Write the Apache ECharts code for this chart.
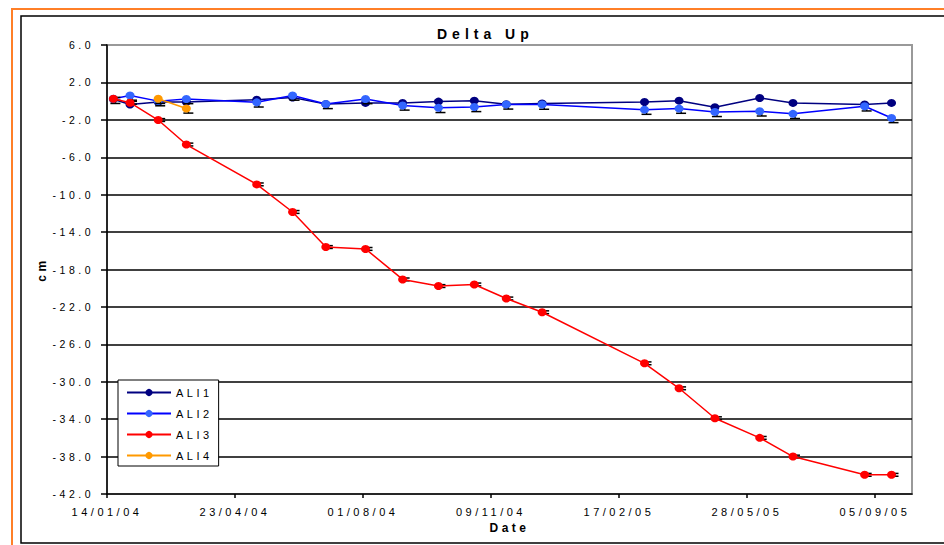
<!DOCTYPE html>
<html>
<head>
<meta charset="utf-8">
<script src="https://cdn.jsdelivr.net/npm/echarts@6/dist/echarts.min.js"></script>
<style>
  html, body { margin: 0; padding: 0; background: #fff; }
  #chart { width: 944px; height: 545px; }
  #chart text { letter-spacing: 3.5px; }
</style>
</head>
<body>
<div id="chart"></div>
<script>
// ---- data ----
const dates = ["2004-01-19","2004-02-01","2004-02-23","2004-03-16","2004-05-10","2004-06-07","2004-07-03","2004-08-03","2004-09-01","2004-09-29","2004-10-27","2004-11-21","2004-12-19","2005-03-09","2005-04-05","2005-05-03","2005-06-07","2005-07-03","2005-08-28","2005-09-18"];
const ali1 = [0.2, -0.37, -0.1, -0.09, 0.16, 0.38, -0.32, -0.19, -0.19, -0.05, 0.05, -0.34, -0.25, -0.09, 0.05, -0.66, 0.34, -0.19, -0.37, -0.19];
const ali2 = [0.25, 0.6, 0.0, 0.23, -0.13, 0.6, -0.3, 0.23, -0.46, -0.72, -0.62, -0.35, -0.37, -0.91, -0.8, -1.15, -1.09, -1.36, -0.55, -1.8];
const ali3 = [0.25, -0.17, -2.02, -4.64, -8.9, -11.85, -15.6, -15.8, -19.06, -19.77, -19.6, -21.1, -22.57, -28.03, -30.7, -33.9, -36.0, -38.0, -39.95, -39.95];
const ali4 = [null, null, 0.25, -0.78, null, null, null, null, null, null, null, null, null, null, null, null, null, null, null, null];
const seriesNames = ["ALI1", "ALI2", "ALI3", "ALI4"];
// error bar half-ranges (cm) read from the small black caps
const errPlus  = [0, 0, 0.15, 0];
const errMinus = [0, 0.5, 0.15, 0.5];
const xTickLabels = ["14/01/04", "23/04/04", "01/08/04", "09/11/04", "17/02/05", "28/05/05", "05/09/05"];
const yMin = -42, yMax = 6, yStep = 4;
const xStartDate = "2004-01-14", xStepDays = 100, xMaxDays = 629;

// ---- helpers ----
const START = Date.parse(xStartDate + "T00:00:00Z");
const dayOf = s => Math.round((Date.parse(s + "T00:00:00Z") - START) / 86400000);
const toPairs = vals => dates.map((d, i) => [dayOf(d), vals[i]]).filter(p => p[1] !== null);

const FONT = 'Arial, "Liberation Sans", sans-serif';
const colors = {
  ALI1: { line: "#000080", mark: "#000080" },
  ALI2: { line: "#0000ff", mark: "#3366ff" },
  ALI3: { line: "#ff0000", mark: "#ff0000" },
  ALI4: { line: "#ff9900", mark: "#ff9900" }
};
const allVals = [ali1, ali2, ali3, ali4];
const xTickValues = xTickLabels.map((_, i) => i * xStepDays);

const lineSeries = seriesNames.map((name, k) => ({
  name: name,
  type: "line",
  data: toPairs(allVals[k]),
  symbol: "circle",
  symbolSize: [9, 8],
  showAllSymbol: true,
  z: 3 + 2 * k,
  lineStyle: { color: colors[name].line, width: 1.5 },
  itemStyle: { color: colors[name].mark, borderWidth: 0 },
  emphasis: { disabled: true }
}));

const errSeries = seriesNames.map((name, k) => ({
  name: name + " err",
  type: "custom",
  z: 2 + 2 * k,
  silent: true,
  data: toPairs(allVals[k]).map(p => [p[0], p[1], p[1] + errPlus[k], p[1] - errMinus[k]]),
  renderItem: (params, api) => {
    if (errPlus[k] === 0 && errMinus[k] === 0) return null;
    const top = api.coord([api.value(0), api.value(2)]);
    const bot = api.coord([api.value(0), api.value(3)]);
    const off = 2;
    const st = { stroke: "#000", lineWidth: 1.5 };
    const kids = [{ type: "line", shape: { x1: top[0] + off, y1: top[1], x2: bot[0] + off, y2: bot[1] }, style: st }];
    if (errPlus[k] > 0) kids.push({ type: "line", shape: { x1: top[0] + off - 5, y1: top[1], x2: top[0] + off + 5, y2: top[1] }, style: st });
    if (errMinus[k] > 0) kids.push({ type: "line", shape: { x1: bot[0] + off - 5, y1: bot[1], x2: bot[0] + off + 5, y2: bot[1] }, style: st });
    return { type: "group", children: kids };
  }
}));

const chart = echarts.init(document.getElementById("chart"), null, { renderer: "svg" });
chart.setOption({
  animation: false,
  backgroundColor: "#fff",
  textStyle: { fontFamily: FONT },
  title: {
    text: "Delta Up",
    left: 437, top: 27, padding: 0,
    textStyle: { fontFamily: FONT, fontSize: 14, fontWeight: "bold", color: "#000" }
  },
  graphic: [
    { type: "rect", shape: { x: 12, y: 9, width: 980, height: 580 }, style: { fill: "none", stroke: "#ff7f27", lineWidth: 2 }, silent: true, z: 0 },
    { type: "rect", shape: { x: 21, y: 16, width: 960, height: 527 }, style: { fill: "none", stroke: "#000", lineWidth: 1.5 }, silent: true, z: 0 }
  ],
  grid: {
    left: 107, right: 32, top: 45, bottom: 51,
    show: true, borderColor: "#999", borderWidth: 2, backgroundColor: "#fff"
  },
  legend: {
    orient: "vertical", left: 118, top: 380,
    padding: [6, 20, 4, 8], itemGap: 8, itemWidth: 44, itemHeight: 9,
    backgroundColor: "#fff", borderColor: "#000", borderWidth: 1, borderRadius: 0,
    textStyle: { fontFamily: FONT, fontSize: 11, color: "#000", lineHeight: 13 },
    data: seriesNames
  },
  xAxis: {
    type: "value", min: 0, max: xMaxDays, interval: xStepDays,
    name: "Date", nameLocation: "middle", nameGap: 27,
    nameTextStyle: { fontFamily: FONT, fontSize: 12, fontWeight: "bold", color: "#000" },
    axisLine: { show: true, onZero: false, lineStyle: { color: "#000", width: 1.5 } },
    axisTick: { show: true, length: 4, customValues: xTickValues, lineStyle: { color: "#000", width: 1.5 } },
    axisLabel: {
      margin: 12, fontSize: 11, color: "#000", fontFamily: FONT, showMaxLabel: false,
      formatter: v => (v % xStepDays === 0 && v / xStepDays < xTickLabels.length) ? xTickLabels[v / xStepDays] : ""
    },
    splitLine: { show: false }
  },
  yAxis: {
    type: "value", min: yMin, max: yMax, interval: yStep,
    name: "cm", nameLocation: "middle", nameGap: 59, nameRotate: 90,
    nameTextStyle: { fontFamily: FONT, fontSize: 12, fontWeight: "bold", color: "#000" },
    axisLine: { show: true, onZero: false, lineStyle: { color: "#000", width: 1.5 } },
    axisTick: { show: true, length: 6, lineStyle: { color: "#000", width: 1.5 } },
    axisLabel: { margin: 13, fontSize: 10.5, color: "#000", fontFamily: FONT, formatter: v => v.toFixed(1) },
    splitLine: { show: true, showMinLine: false, showMaxLine: false, lineStyle: { color: "#000", width: 1.5 } }
  },
  series: errSeries.concat(lineSeries)
});

function spaceTitle() {
  document.querySelectorAll("#chart text").forEach(t => {
    const s = (t.textContent || "").replace(/\s/g, "");
    if (s === "DeltaUp") t.style.letterSpacing = "5px";
  });
}
spaceTitle();
chart.on("finished", spaceTitle);
</script>
</body>
</html>
